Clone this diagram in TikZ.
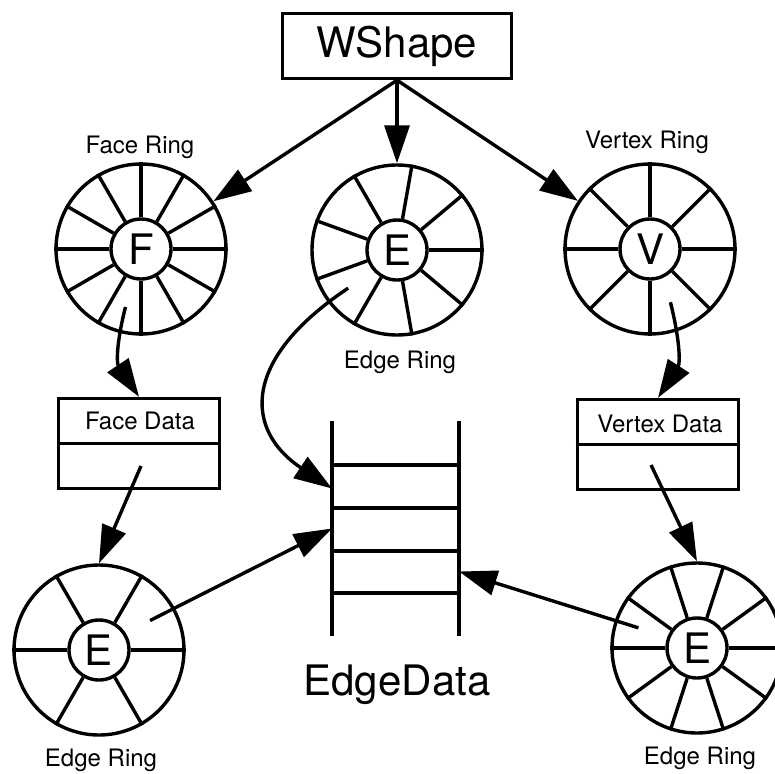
\documentclass[tikz,border=0pt]{standalone}
\usepackage{fontspec}
\setmainfont{TeX Gyre Heros}
\usetikzlibrary{arrows.meta}
\tikzset{
  ring/.style={circle, draw, minimum size=170pt, inner sep=0pt},
  hub/.style={circle, draw, fill=white, minimum size=60pt, inner sep=0pt, font=\fontsize{42}{42}\selectfont},
  databox/.style={draw, minimum width=161pt, minimum height=90pt, inner sep=0pt},
  lbl/.style={anchor=base, inner sep=0pt, font=\fontsize{24}{24}\selectfont},
  biglbl/.style={anchor=base, inner sep=0pt, font=\fontsize{42}{42}\selectfont},
  bigarrow/.style={-{Triangle[length=38pt,width=25pt]}},
}
\begin{document}
\begin{tikzpicture}[x=1pt, y=-1pt, line width=3.4pt]
  \useasboundingbox (0,0) rectangle (775,773);
  \node[draw, minimum width=229pt, minimum height=65pt, font=\fontsize{42}{42}\selectfont] (ws) at (397,46) {WShape};
  % rings
  \node[ring] (fr) at (141,249) {}; \node[hub] (fh) at (fr) {F};
  \foreach \a in {0,30,...,330} \draw (fh.\a) -- (fr.\a);
  \node[ring] (er) at (397,250) {}; \node[hub] (eh) at (er) {E};
  \foreach \a in {0,40,...,320} \draw (eh.\a) -- (er.\a);
  \node[ring] (vr) at (650,249) {}; \node[hub] (vh) at (vr) {V};
  \foreach \a in {0,45,...,315} \draw (vh.\a) -- (vr.\a);
  \node[ring] (el) at (99,650) {}; \node[hub] (elh) at (el) {E};
  \foreach \a in {0,60,...,300} \draw (elh.\a) -- (el.\a);
  \node[ring] (eb) at (697,648) {}; \node[hub] (ebh) at (eb) {E};
  \foreach \a in {0,36,...,324} \draw (ebh.\a) -- (eb.\a);
  \node[lbl] (frl) at (140,153) {Face Ring};
  \node[lbl] (erl) at (400,368) {Edge Ring};
  \node[lbl] (vrl) at (647,148) {Vertex Ring};
  \node[lbl] (ell) at (101,766) {Edge Ring};
  \node[lbl] (ebl) at (700,764) {Edge Ring};
  % data boxes
  \node[databox] (fd) at (139,443.5) {}; \draw (fd.west) -- (fd.east);
  \node[lbl] (fdl) at (140,429) {Face Data};
  \node[databox] (vd) at (658,444.5) {}; \draw (vd.west) -- (vd.east);
  \node[lbl] (vdl) at (660,432) {Vertex Data};
  % edge data ladder
  \node[minimum width=127pt, minimum height=215pt, inner sep=0pt, outer sep=0pt] (ed) at (395.5,528.5) {};
  \draw (ed.north west) -- (ed.south west); \draw (ed.north east) -- (ed.south east);
  \foreach \y in {465,508,551,593} \draw (ed.west |- 0,\y) -- (ed.east |- 0,\y);
  \node[biglbl] (edl) at (397,695) {EdgeData};
  % pointers
  \coordinate (fs) at ([shift={(255:60pt)}]fr.center);
  \coordinate (es) at ([shift={(218:62pt)}]er.center);
  \coordinate (vs) at ([shift={(291:57pt)}]vr.center);
  \coordinate (els) at ([shift={(30:59pt)}]el.center);
  \coordinate (ebs) at ([shift={(161:62pt)}]eb.center);
  \coordinate (fdc) at (141,466);
  \coordinate (vdc) at (651,465);
  \draw[bigarrow] (ws.south) -- (fr);
  \draw[bigarrow] (ws.south) -- (er);
  \draw[bigarrow] (ws.south) -- (vr);
  \draw[bigarrow] (fs) .. controls +(-10,40) and +(-22,-33) .. (fd.north);
  \draw[bigarrow] (vs) .. controls +(10,40) and +(22,-34) .. (vd.north);
  \draw[bigarrow] (es) .. controls +(-108,72) and +(-87,-58) .. ([yshift=40pt]ed.west);
  \draw[bigarrow] (fdc) -- (el.north);
  \draw[bigarrow] (vdc) -- (eb.north);
  \draw[bigarrow] (els) -- (ed.west);
  \draw[bigarrow] (ebs) -- ([yshift=-43pt]ed.east);
\end{tikzpicture}
\end{document}
